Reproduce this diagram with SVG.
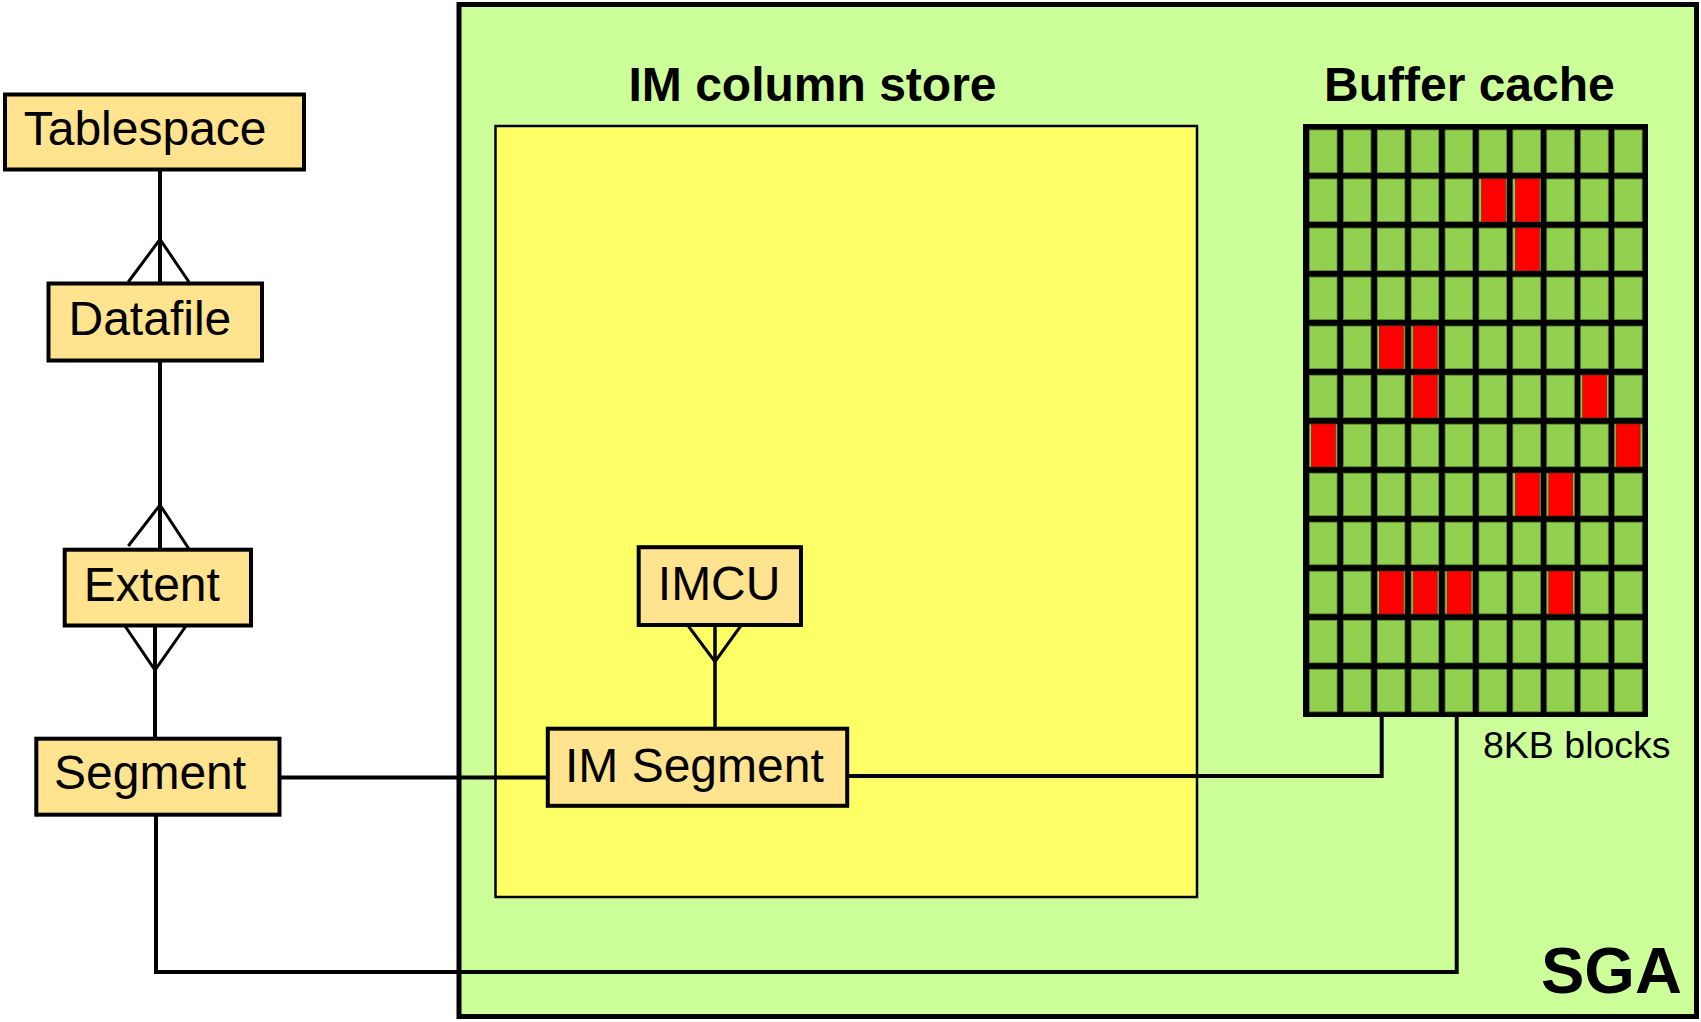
<svg xmlns="http://www.w3.org/2000/svg" xmlns:xlink="http://www.w3.org/1999/xlink" width="1701" height="1022" viewBox="0 0 1701 1022">
<style>
text{font-family:"Liberation Sans",Arial,sans-serif;fill:#000}
.lbl{font-size:48px}
.hdr{font-size:48px;font-weight:bold}
.box{fill:#FFE38F;stroke:#000;stroke-width:4}
.ln{fill:none;stroke:#000;stroke-width:4}
.crow{fill:none;stroke:#000;stroke-width:3}
.cell{fill:#92D050;stroke:#5E8E35;stroke-width:0.8}
.red{fill:#FF0000;stroke:#B00000;stroke-width:0.6}
</style>
<defs>
<g id="row">
<rect class="cell" x="1309.5" y="0" width="27.5" height="42.5"/>
<rect class="cell" x="1343.4" y="0" width="27.5" height="42.5"/>
<rect class="cell" x="1377.3" y="0" width="27.5" height="42.5"/>
<rect class="cell" x="1411.2" y="0" width="27.5" height="42.5"/>
<rect class="cell" x="1445.1" y="0" width="27.5" height="42.5"/>
<rect class="cell" x="1479.0" y="0" width="27.5" height="42.5"/>
<rect class="cell" x="1512.9" y="0" width="27.5" height="42.5"/>
<rect class="cell" x="1546.8" y="0" width="27.5" height="42.5"/>
<rect class="cell" x="1580.7" y="0" width="27.5" height="42.5"/>
<rect class="cell" x="1614.6" y="0" width="27.5" height="42.5"/>
</g>
</defs>
<rect x="0" y="0" width="1701" height="1022" fill="#fff"/>
<g id="sga">
<rect x="459" y="4.5" width="1237.5" height="1012" fill="#CCFF99" stroke="#000" stroke-width="5"/>
<text x="1541" y="993" style="font-size:65px;font-weight:bold">SGA</text>
</g>
<g id="im-column-store">
<rect x="495.5" y="126" width="701.5" height="771" fill="#FFFF66" stroke="#000" stroke-width="2.5"/>
<text class="hdr" x="812.5" y="101" text-anchor="middle">IM column store</text>
</g>
<g id="buffer-cache">
<text class="hdr" x="1324" y="101">Buffer cache</text>
<rect x="1303" y="124" width="345" height="593" fill="#000"/>
<use xlink:href="#row" y="130"/>
<use xlink:href="#row" y="179"/>
<use xlink:href="#row" y="228.1"/>
<use xlink:href="#row" y="277.1"/>
<use xlink:href="#row" y="326.1"/>
<use xlink:href="#row" y="375.2"/>
<use xlink:href="#row" y="424.2"/>
<use xlink:href="#row" y="473.2"/>
<use xlink:href="#row" y="522.2"/>
<use xlink:href="#row" y="571.3"/>
<use xlink:href="#row" y="620.3"/>
<use xlink:href="#row" y="669.3"/>
<g id="dirty-blocks">
<rect class="red" x="1481.5" y="179" width="24" height="42.5"/>
<rect class="red" x="1515.4" y="179" width="24" height="42.5"/>
<rect class="red" x="1515.4" y="228.1" width="24" height="42.5"/>
<rect class="red" x="1379.3" y="326.1" width="24" height="42.5"/>
<rect class="red" x="1413.2" y="326.1" width="24" height="42.5"/>
<rect class="red" x="1413.2" y="375.2" width="24" height="42.5"/>
<rect class="red" x="1582.7" y="375.2" width="24" height="42.5"/>
<rect class="red" x="1311.5" y="424.2" width="24" height="42.5"/>
<rect class="red" x="1616.1" y="424.2" width="24" height="42.5"/>
<rect class="red" x="1515.4" y="473.2" width="24" height="42.5"/>
<rect class="red" x="1548.8" y="473.2" width="24" height="42.5"/>
<rect class="red" x="1379.3" y="571.3" width="24" height="42.5"/>
<rect class="red" x="1413.2" y="571.3" width="24" height="42.5"/>
<rect class="red" x="1447.1" y="571.3" width="24" height="42.5"/>
<rect class="red" x="1548.8" y="571.3" width="24" height="42.5"/>
</g>
<text x="1483" y="758" style="font-size:37.5px">8KB blocks</text>
</g>
<g id="connectors">
<line class="ln" x1="160" y1="170" x2="160" y2="283.5"/>
<polyline class="crow" points="128.3,282 160,239.3 189,282"/>
<line class="ln" x1="160" y1="360" x2="160" y2="549"/>
<polyline class="crow" points="128.3,546 160,505 189,549"/>
<line class="ln" x1="155" y1="625" x2="155" y2="738.7"/>
<polyline class="crow" points="125,626 155,670 186,626"/>
<line class="ln" x1="279.5" y1="777.5" x2="547.8" y2="777.5"/>
<line class="ln" x1="715" y1="625" x2="715" y2="728.7" style="stroke-width:3.5"/>
<polyline class="crow" points="688.3,626 715,661.7 740.7,626"/>
<polyline class="ln" points="847.2,776 1381.7,776 1381.7,717"/>
<polyline class="ln" points="156,814.7 156,972 1456.7,972 1456.7,717"/>
</g>
<g id="node-tablespace">
<rect class="box" x="5" y="94.5" width="299" height="75"/>
<text class="lbl" x="23.7" y="145">Tablespace</text>
</g>
<g id="node-datafile">
<rect class="box" x="48.5" y="283.5" width="213.5" height="77"/>
<text class="lbl" x="68.5" y="335">Datafile</text>
</g>
<g id="node-extent">
<rect class="box" x="64.7" y="549.7" width="186.3" height="75.8"/>
<text class="lbl" x="83.8" y="600.7">Extent</text>
</g>
<g id="node-segment">
<rect class="box" x="36.3" y="738.7" width="243.2" height="76"/>
<text class="lbl" x="54" y="789.3">Segment</text>
</g>
<g id="node-imcu">
<rect class="box" x="638.7" y="547.2" width="162.3" height="77.8"/>
<text class="lbl" x="657.8" y="600">IMCU</text>
</g>
<g id="node-im-segment">
<rect class="box" x="547.8" y="728.7" width="299.4" height="77.1"/>
<text class="lbl" x="565" y="781.7">IM Segment</text>
</g>
</svg>
